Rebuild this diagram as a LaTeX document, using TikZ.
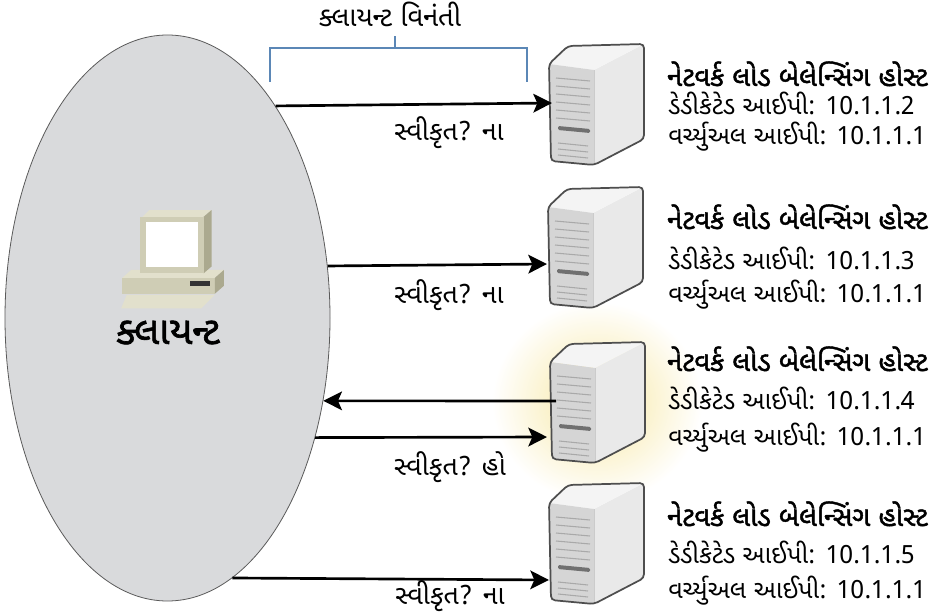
\documentclass[tikz,border=0pt]{standalone}
\usepackage{fontspec}
\newfontfamily\guj[Script=Gujarati]{Noto Sans Gujarati UI}
\newfontfamily\gujsemi[Script=Gujarati, FakeBold=1.6]{Noto Sans Gujarati UI}
\usetikzlibrary{arrows.meta,shapes.geometric}

\definecolor{ellfill}{HTML}{D9DADC}
\definecolor{ellline}{HTML}{5A5A5A}
\definecolor{brk}{HTML}{5B87B6}
\definecolor{srvline}{HTML}{4E4E4E}
\definecolor{srvfront}{HTML}{D5D5D5}
\definecolor{srvside}{HTML}{E9E9E9}
\definecolor{srvtop}{HTML}{F4F4F4}
\definecolor{srvslat}{HTML}{A9A9A9}
\definecolor{srvslot}{HTML}{707070}
\definecolor{glow}{HTML}{F7E7A0}
\definecolor{pcbeige}{HTML}{CFCDB5}
\definecolor{pcdark}{HTML}{ABA98F}
\definecolor{pclight}{HTML}{E2E0CC}

\tikzset{
  hosttitle/.style={anchor=base west, inner sep=0pt, font=\gujsemi\fontsize{20.6}{24}\selectfont},
  hostline/.style={anchor=base west, inner sep=0pt, font=\guj\fontsize{18.8}{22}\selectfont},
  acklabel/.style={anchor=base, inner sep=0pt, font=\guj\fontsize{20}{24}\selectfont},
  flow/.style={line width=2pt, -{Stealth[length=14pt,width=14pt,inset=3pt]}},
  slat/.style={srvslat, line width=0.8pt},
  server/.pic={
    \fill[srvside] (46,28) -- (96,2) -- (96,97) -- (46,123) -- cycle;
    \fill[srvtop] (1,22) -- (20,4) -- (96,2) -- (46,28) -- cycle;
    \fill[srvfront] (1,22) -- (46,28) -- (46,123) -- (3,119) -- cycle;
    \draw[srvslat!60, line width=0.6pt] (46,28) -- (46,123);
    \foreach \k in {0,...,5} \draw[slat] (8,36+8*\k) -- (42,39+8*\k);
    \fill[srvslot, rounded corners=1pt] (10,84) -- (42,87) -- (42,91) -- (10,88) -- cycle;
    \foreach \k in {0,1,2} \draw[slat] (10,101+6*\k) -- (40,104+6*\k);
    \draw[srvline, line width=1.3pt, rounded corners=3pt]
      (1,22) -- (20,4) -- (96,2) -- (96,97) -- (46,123) -- (3,119) -- cycle;
  }
}

\begin{document}
\begin{tikzpicture}[x=0.75pt,y=-0.75pt]
\useasboundingbox (0,0) rectangle (935,613);
\fill[white] (0,0) rectangle (935,613);

% halo around the host that accepts the request
\shade[inner color=glow, outer color=white] (597,402) ellipse (105 and 100);

% client area
\node[ellipse, draw=ellline, fill=ellfill, line width=0.6pt, inner sep=0pt,
      minimum width=243.75pt, minimum height=424.5pt] (client) at (167.5,318) {};

% client computer icon
\begin{scope}[shift={(172,262)}, scale=1.13, shift={(-172,-262)}]
\fill[pclight] (128,276) -- (136,269) -- (218,269) -- (210,276) -- cycle;
\fill[pcbeige] (128,276) rectangle (210,290);
\fill[pcdark] (210,276) -- (218,269) -- (218,283) -- (210,290) -- cycle;
\fill[black!80] (188,279) rectangle (206,283);
\fill[pclight] (146,222) -- (152,216) -- (207,216) -- (200,222) -- cycle;
\fill[pcdark] (200,222) -- (207,216) -- (207,266) -- (200,272) -- cycle;
\fill[pcbeige] (144,222) rectangle (200,272);
\fill[white] (149,227) rectangle (195,266);
\fill[pclight] (132,291) -- (210,291) -- (198,303) -- (127,303) -- cycle;
\end{scope}
\node[anchor=base, inner sep=0pt, font=\gujsemi\fontsize{29}{34}\selectfont] (clientlbl) at (168,344) {ક્લાયન્ટ};

% request bracket
\draw[brk, line width=1.8pt] (270,82) -- (270,48) -- (527,48) -- (527,82);
\draw[brk, line width=1.8pt] (395,48) -- (395,36);
\node[acklabel, font=\guj\fontsize{20.5}{24}\selectfont] (reqlbl) at (390,27) {ક્લાયન્ટ વિનંતી};

% hosts
\pic at (548,42) {server};
\pic at (547,185) {server};
\pic at (549,340) {server};
\pic at (548,481) {server};

% arrow ends at the hosts
\coordinate (h1) at (552,103);
\coordinate (h2) at (547,264);
\coordinate (h3) at (556,401);
\coordinate (h4) at (547,437);
\coordinate (h5) at (549,580);

\draw[flow] (client.63.9) -- (h1);
\draw[flow] (client.18.8) -- (h2);
\draw[flow] (h3) -- (client.-28.2);
\draw[flow] (client.-39.0) -- (h4);
\draw[flow] (client.-76.8) -- (h5);

\node[acklabel] (ack1) at (449,141) {સ્વીકૃત? ના};
\node[acklabel] (ack2) at (449,303) {સ્વીકૃત? ના};
\node[acklabel] (ack3) at (450,475) {સ્વીકૃત? હો};
\node[acklabel] (ack4) at (450,604) {સ્વીકૃત? ના};

% host descriptions
\node[hosttitle] (t1) at (667,86) {નેટવર્ક લોડ બેલેન્સિંગ હોસ્ટ};
\node[hostline] (d1) at (668,115) {ડેડીકેટેડ આઈપી: 10.1.1.2};
\node[hostline] (v1) at (668,145) {વર્ચ્યુઅલ આઈપી: 10.1.1.1};

\node[hosttitle] (t2) at (667,229) {નેટવર્ક લોડ બેલેન્સિંગ હોસ્ટ};
\node[hostline] (d2) at (668,269) {ડેડીકેટેડ આઈપી: 10.1.1.3};
\node[hostline] (v2) at (668,302) {વર્ચ્યુઅલ આઈપી: 10.1.1.1};

\node[hosttitle] (t3) at (667,371) {નેટવર્ક લોડ બેલેન્સિંગ હોસ્ટ};
\node[hostline] (d3) at (668,409) {ડેડીકેટેડ આઈપી: 10.1.1.4};
\node[hostline] (v3) at (668,445) {વર્ચ્યુઅલ આઈપી: 10.1.1.1};

\node[hosttitle] (t4) at (667,526) {નેટવર્ક લોડ બેલેન્સિંગ હોસ્ટ};
\node[hostline] (d4) at (668,563) {ડેડીકેટેડ આઈપી: 10.1.1.5};
\node[hostline] (v4) at (668,598) {વર્ચ્યુઅલ આઈપી: 10.1.1.1};
\end{tikzpicture}
\end{document}
